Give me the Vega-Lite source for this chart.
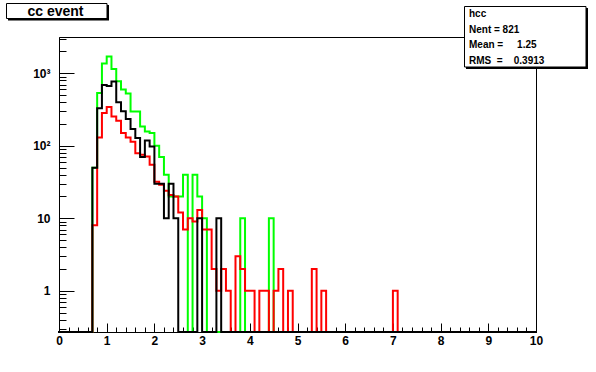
{
  "$schema": "https://vega.github.io/schema/vega-lite/v6.json",
  "autosize": {"type": "none"},
  "width": 477,
  "height": 295,
  "padding": {"left": 59, "top": 37, "right": 60, "bottom": 40},
  "background": "white",
  "config": {"view": {"stroke": "black", "strokeWidth": 1}},
  "datasets": {
    "hist": [
      {"hist": "green", "bin": 0, "entries": 0},
      {"hist": "green", "bin": 0.7, "entries": 50},
      {"hist": "green", "bin": 0.8, "entries": 534},
      {"hist": "green", "bin": 0.9, "entries": 1370},
      {"hist": "green", "bin": 1.0, "entries": 1706},
      {"hist": "green", "bin": 1.1, "entries": 1143},
      {"hist": "green", "bin": 1.2, "entries": 780},
      {"hist": "green", "bin": 1.3, "entries": 600},
      {"hist": "green", "bin": 1.4, "entries": 528},
      {"hist": "green", "bin": 1.5, "entries": 297},
      {"hist": "green", "bin": 1.6, "entries": 297},
      {"hist": "green", "bin": 1.7, "entries": 185},
      {"hist": "green", "bin": 1.8, "entries": 157},
      {"hist": "green", "bin": 1.9, "entries": 150},
      {"hist": "green", "bin": 2.0, "entries": 100},
      {"hist": "green", "bin": 2.1, "entries": 70},
      {"hist": "green", "bin": 2.2, "entries": 40},
      {"hist": "green", "bin": 2.3, "entries": 20},
      {"hist": "green", "bin": 2.4, "entries": 20},
      {"hist": "green", "bin": 2.5, "entries": 20},
      {"hist": "green", "bin": 2.6, "entries": 40},
      {"hist": "green", "bin": 2.7, "entries": 0},
      {"hist": "green", "bin": 2.8, "entries": 40},
      {"hist": "green", "bin": 2.9, "entries": 20},
      {"hist": "green", "bin": 3.0, "entries": 10},
      {"hist": "green", "bin": 3.1, "entries": 0},
      {"hist": "green", "bin": 3.8, "entries": 10},
      {"hist": "green", "bin": 3.9, "entries": 0},
      {"hist": "green", "bin": 4.4, "entries": 10},
      {"hist": "green", "bin": 4.5, "entries": 0},
      {"hist": "green", "bin": 10, "entries": 0},
      {"hist": "red", "bin": 0, "entries": 0},
      {"hist": "red", "bin": 0.7, "entries": 8},
      {"hist": "red", "bin": 0.8, "entries": 130},
      {"hist": "red", "bin": 0.9, "entries": 283},
      {"hist": "red", "bin": 1.0, "entries": 342},
      {"hist": "red", "bin": 1.1, "entries": 254},
      {"hist": "red", "bin": 1.2, "entries": 221},
      {"hist": "red", "bin": 1.3, "entries": 150},
      {"hist": "red", "bin": 1.4, "entries": 130},
      {"hist": "red", "bin": 1.5, "entries": 114},
      {"hist": "red", "bin": 1.6, "entries": 79},
      {"hist": "red", "bin": 1.7, "entries": 75},
      {"hist": "red", "bin": 1.8, "entries": 71},
      {"hist": "red", "bin": 1.9, "entries": 55},
      {"hist": "red", "bin": 2.0, "entries": 32},
      {"hist": "red", "bin": 2.1, "entries": 29},
      {"hist": "red", "bin": 2.2, "entries": 24},
      {"hist": "red", "bin": 2.3, "entries": 21},
      {"hist": "red", "bin": 2.4, "entries": 20},
      {"hist": "red", "bin": 2.5, "entries": 12},
      {"hist": "red", "bin": 2.6, "entries": 7},
      {"hist": "red", "bin": 2.7, "entries": 10},
      {"hist": "red", "bin": 2.8, "entries": 9},
      {"hist": "red", "bin": 2.9, "entries": 13},
      {"hist": "red", "bin": 3.0, "entries": 7},
      {"hist": "red", "bin": 3.1, "entries": 7},
      {"hist": "red", "bin": 3.2, "entries": 2},
      {"hist": "red", "bin": 3.3, "entries": 1},
      {"hist": "red", "bin": 3.4, "entries": 2},
      {"hist": "red", "bin": 3.5, "entries": 1},
      {"hist": "red", "bin": 3.6, "entries": 0},
      {"hist": "red", "bin": 3.7, "entries": 3},
      {"hist": "red", "bin": 3.8, "entries": 2},
      {"hist": "red", "bin": 3.9, "entries": 1},
      {"hist": "red", "bin": 4.0, "entries": 1},
      {"hist": "red", "bin": 4.1, "entries": 0},
      {"hist": "red", "bin": 4.2, "entries": 1},
      {"hist": "red", "bin": 4.3, "entries": 1},
      {"hist": "red", "bin": 4.4, "entries": 0},
      {"hist": "red", "bin": 4.5, "entries": 1},
      {"hist": "red", "bin": 4.6, "entries": 2},
      {"hist": "red", "bin": 4.7, "entries": 0},
      {"hist": "red", "bin": 4.8, "entries": 1},
      {"hist": "red", "bin": 4.9, "entries": 0},
      {"hist": "red", "bin": 5.3, "entries": 2},
      {"hist": "red", "bin": 5.4, "entries": 0},
      {"hist": "red", "bin": 5.5, "entries": 1},
      {"hist": "red", "bin": 5.6, "entries": 0},
      {"hist": "red", "bin": 7.0, "entries": 1},
      {"hist": "red", "bin": 7.1, "entries": 0},
      {"hist": "red", "bin": 10, "entries": 0},
      {"hist": "black", "bin": 0, "entries": 0},
      {"hist": "black", "bin": 0.7, "entries": 50},
      {"hist": "black", "bin": 0.8, "entries": 331},
      {"hist": "black", "bin": 0.9, "entries": 690},
      {"hist": "black", "bin": 1.0, "entries": 670},
      {"hist": "black", "bin": 1.1, "entries": 771},
      {"hist": "black", "bin": 1.2, "entries": 400},
      {"hist": "black", "bin": 1.3, "entries": 300},
      {"hist": "black", "bin": 1.4, "entries": 235},
      {"hist": "black", "bin": 1.5, "entries": 170},
      {"hist": "black", "bin": 1.6, "entries": 128},
      {"hist": "black", "bin": 1.7, "entries": 70},
      {"hist": "black", "bin": 1.8, "entries": 118},
      {"hist": "black", "bin": 1.9, "entries": 98},
      {"hist": "black", "bin": 2.0, "entries": 30},
      {"hist": "black", "bin": 2.1, "entries": 30},
      {"hist": "black", "bin": 2.2, "entries": 10},
      {"hist": "black", "bin": 2.3, "entries": 30},
      {"hist": "black", "bin": 2.4, "entries": 10},
      {"hist": "black", "bin": 2.5, "entries": 0},
      {"hist": "black", "bin": 2.9, "entries": 10},
      {"hist": "black", "bin": 3.0, "entries": 0},
      {"hist": "black", "bin": 3.3, "entries": 10},
      {"hist": "black", "bin": 3.4, "entries": 0},
      {"hist": "black", "bin": 10, "entries": 0}
    ]
  },
  "encoding": {
    "x": {
      "field": "bin", "type": "quantitative",
      "scale": {"domain": [0, 10], "nice": false, "zero": false},
      "axis": {
        "title": null, "grid": false,
        "values": [0,0.2,0.4,0.6,0.8,1,1.2,1.4,1.6,1.8,2,2.2,2.4,2.6,2.8,3,3.2,3.4,3.6,3.8,4,4.2,4.4,4.6,4.8,5,5.2,5.4,5.6,5.8,6,6.2,6.4,6.6,6.8,7,7.2,7.4,7.6,7.8,8,8.2,8.4,8.6,8.8,9,9.2,9.4,9.6,9.8,10],
        "labelExpr": "abs(datum.value - round(datum.value)) < 0.001 ? '' + round(datum.value) : ''",
        "tickSize": {"condition": {"test": "abs(datum.value - round(datum.value)) < 0.001", "value": -9}, "value": -5},
        "tickColor": "black", "tickWidth": 1,
        "domainColor": "black", "domainWidth": 1,
        "labelFlush": false, "labelOverlap": false, "labelBound": false,
        "labelFont": "Liberation Sans", "labelFontWeight": "bold", "labelFontSize": 12, "labelColor": "black",
        "labelPadding": 12
      }
    },
    "y": {
      "field": "entries", "type": "quantitative",
      "scale": {"type": "log", "domain": [0.27, 3170], "nice": false, "clamp": true},
      "axis": {
        "title": null, "grid": false,
        "values": [0.3,0.4,0.5,0.6,0.7,0.8,0.9,1,2,3,4,5,6,7,8,9,10,20,30,40,50,60,70,80,90,100,200,300,400,500,600,700,800,900,1000,2000,3000],
        "labelExpr": "datum.value === 1 ? '1' : datum.value === 10 ? '10' : datum.value === 100 ? '10\u00b2' : datum.value === 1000 ? '10\u00b3' : ''",
        "tickSize": {"condition": {"test": "datum.value === 1 || datum.value === 10 || datum.value === 100 || datum.value === 1000", "value": -15}, "value": -7},
        "tickColor": "black", "tickWidth": 1,
        "domainColor": "black", "domainWidth": 1,
        "labelOverlap": false, "labelFlush": false, "labelBound": false,
        "labelFont": "Liberation Sans", "labelFontWeight": "bold", "labelFontSize": 12, "labelColor": "black",
        "labelPadding": 24
      }
    }
  },
  "layer": [
    {
      "data": {"name": "hist"},
      "transform": [{"filter": "datum.hist === 'green'"}],
      "mark": {"type": "line", "interpolate": "step-after", "color": "#00ff00", "strokeWidth": 2, "invalid": "show", "strokeJoin": "miter", "strokeCap": "square"}
    },
    {
      "data": {"name": "hist"},
      "transform": [{"filter": "datum.hist === 'red'"}],
      "mark": {"type": "line", "interpolate": "step-after", "color": "#ff0000", "strokeWidth": 2, "invalid": "show", "strokeJoin": "miter", "strokeCap": "square"}
    },
    {
      "data": {"name": "hist"},
      "transform": [{"filter": "datum.hist === 'black'"}],
      "mark": {"type": "line", "interpolate": "step-after", "color": "#000000", "strokeWidth": 2, "invalid": "show", "strokeJoin": "miter", "strokeCap": "square"}
    },
    {
      "data": {"values": [{"box": "title"}]},
      "mark": {"type": "rect", "fill": "black"},
      "encoding": {"x": {"value": -51}, "x2": {"value": 50}, "y": {"value": -32}, "y2": {"value": -16.5}}
    },
    {
      "data": {"values": [{"box": "title"}]},
      "mark": {"type": "rect", "fill": "white", "stroke": "black", "strokeWidth": 1},
      "encoding": {"x": {"value": -52.5}, "x2": {"value": 48}, "y": {"value": -33.5}, "y2": {"value": -18.5}}
    },
    {
      "data": {"values": [{"box": "title"}]},
      "mark": {"type": "text", "text": "cc event", "font": "Liberation Sans", "fontWeight": "bold", "fontSize": 14, "color": "black", "align": "center", "baseline": "middle"},
      "encoding": {"x": {"value": -3.5}, "y": {"value": -25.5}}
    },
    {
      "data": {"values": [{"box": "stats"}]},
      "mark": {"type": "rect", "fill": "black"},
      "encoding": {"x": {"value": 407}, "x2": {"value": 529}, "y": {"value": -29}, "y2": {"value": 32}}
    },
    {
      "data": {"values": [{"box": "stats"}]},
      "mark": {"type": "rect", "fill": "white", "stroke": "black", "strokeWidth": 1},
      "encoding": {"x": {"value": 405.5}, "x2": {"value": 527}, "y": {"value": -30.5}, "y2": {"value": 30}}
    },
    {
      "data": {"values": [{"box": "stats"}]},
      "mark": {"type": "text", "text": "hcc", "font": "Liberation Sans", "fontWeight": "bold", "fontSize": 10, "color": "black", "align": "left", "baseline": "middle"},
      "encoding": {"x": {"value": 410}, "y": {"value": -23.5}}
    },
    {
      "data": {"values": [{"box": "stats"}]},
      "mark": {"type": "text", "text": "Nent\u00a0=\u00a0821", "font": "Liberation Sans", "fontWeight": "bold", "fontSize": 10, "color": "black", "align": "left", "baseline": "middle"},
      "encoding": {"x": {"value": 410}, "y": {"value": -7.5}}
    },
    {
      "data": {"values": [{"box": "stats"}]},
      "mark": {"type": "text", "text": "Mean\u00a0=\u00a0\u00a0\u00a0\u00a0\u00a01.25", "font": "Liberation Sans", "fontWeight": "bold", "fontSize": 10, "color": "black", "align": "left", "baseline": "middle"},
      "encoding": {"x": {"value": 410}, "y": {"value": 8}}
    },
    {
      "data": {"values": [{"box": "stats"}]},
      "mark": {"type": "text", "text": "RMS\u00a0\u00a0=\u00a0\u00a0\u00a0\u00a00.3913", "font": "Liberation Sans", "fontWeight": "bold", "fontSize": 10, "color": "black", "align": "left", "baseline": "middle"},
      "encoding": {"x": {"value": 410}, "y": {"value": 23.5}}
    }
  ]
}
